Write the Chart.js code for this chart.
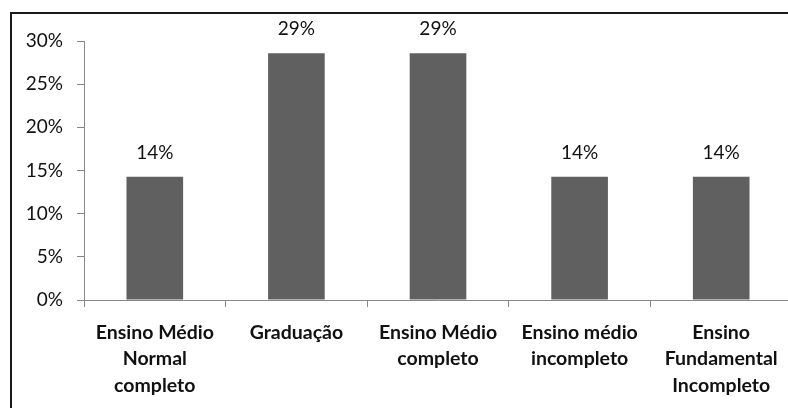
<!DOCTYPE html>
<html>
<head>
<meta charset="utf-8">
<script src="https://cdn.jsdelivr.net/npm/chart.js@4"></script>
<style>
  html, body { margin: 0; padding: 0; background: #fff; overflow: hidden; }
  #wrap { position: absolute; left: 0; top: 0; width: 792px; height: 408px; }
  #frame { position: absolute; left: 10px; top: 12px; width: 800px; height: 420px;
           border-top: 2px solid #1a1a1a; border-left: 2px solid #1a1a1a; }
</style>
</head>
<body>
<div id="frame"></div>
<div id="wrap"><canvas id="chart"></canvas></div>
<script>
const categories = [
  ['Ensino Médio', 'Normal', 'completo'],
  ['Graduação'],
  ['Ensino Médio', 'completo'],
  ['Ensino médio', 'incompleto'],
  ['Ensino', 'Fundamental', 'Incompleto']
]
const shares = [14.29, 28.57, 28.57, 14.29, 14.29]
const yTicks = [0, 5, 10, 15, 20, 25, 30]

const FONT = 'Lato, "Open Sans", sans-serif'

// draws the percentage above each bar
const valueLabels = {
  id: 'valueLabels',
  afterDatasetsDraw(chart) {
    const ctx = chart.ctx
    const meta = chart.getDatasetMeta(0)
    ctx.save()
    ctx.font = '19px ' + FONT
    ctx.fillStyle = '#111'
    ctx.textAlign = 'center'
    ctx.textBaseline = 'middle'
    meta.data.forEach((bar, i) => {
      ctx.fillText(Math.round(shares[i]) + '%', bar.x, bar.y - 24)
    })
    ctx.restore()
  }
}

new Chart(document.getElementById('chart'), {
  type: 'bar',
  data: {
    labels: categories,
    datasets: [{
      data: shares,
      backgroundColor: '#606060',
      categoryPercentage: 1,
      barPercentage: 0.4
    }]
  },
  options: {
    responsive: true,
    maintainAspectRatio: false,
    animation: false,
    events: [],
    layout: { padding: { top: 41, left: 20, right: 0, bottom: 0 } },
    plugins: { legend: { display: false }, tooltip: { enabled: false } },
    scales: {
      x: {
        afterFit(scale) { scale.height = 108 },
        border: { color: '#888', width: 1 },
        grid: { drawOnChartArea: false, offset: true, tickLength: 7, color: '#888' },
        ticks: { color: '#111', padding: 13, maxRotation: 0, autoSkip: false,
                 font: { family: FONT, size: 19.5, weight: 'bold', lineHeight: 1.34 } }
      },
      y: {
        min: 0,
        max: 30,
        afterFit(scale) { scale.width = 64 },
        afterBuildTicks(scale) { scale.ticks = yTicks.map(v => ({ value: v })) },
        border: { color: '#888', width: 1 },
        grid: { drawOnChartArea: false, tickLength: 7, color: '#888' },
        ticks: { color: '#111', padding: 14, callback: v => v + '%',
                 font: { family: FONT, size: 19 } }
      }
    }
  },
  plugins: [valueLabels]
})
</script>
</body>
</html>
